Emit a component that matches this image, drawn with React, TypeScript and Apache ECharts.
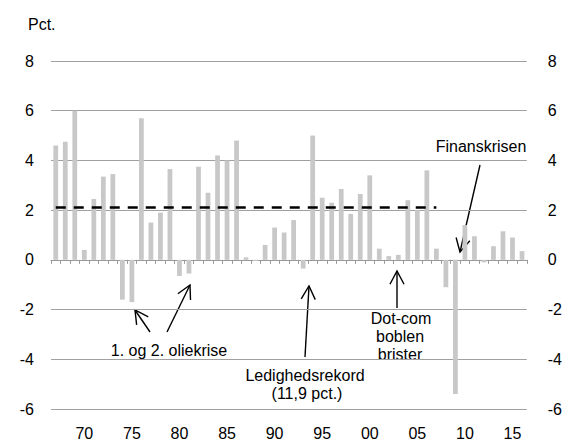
import React, { useEffect, useRef } from "react";
import * as echarts from "echarts";

const years = [
  "1967", "1968", "1969", "1970", "1971", "1972", "1973", "1974", "1975", "1976",
  "1977", "1978", "1979", "1980", "1981", "1982", "1983", "1984", "1985", "1986",
  "1987", "1988", "1989", "1990", "1991", "1992", "1993", "1994", "1995", "1996",
  "1997", "1998", "1999", "2000", "2001", "2002", "2003", "2004", "2005", "2006",
  "2007", "2008", "2009", "2010", "2011", "2012", "2013", "2014", "2015", "2016",
];

const growth = [
  4.6, 4.75, 6.0, 0.4, 2.45, 3.35, 3.45, -1.6, -1.7, 5.7,
  1.5, 1.9, 3.65, -0.65, -0.55, 3.75, 2.7, 4.2, 4.0, 4.8,
  0.1, -0.05, 0.6, 1.3, 1.1, 1.6, -0.35, 5.0, 2.5, 2.3,
  2.85, 1.85, 2.65, 3.4, 0.45, 0.15, 0.2, 2.4, 2.0, 3.6,
  0.45, -1.1, -5.4, 1.4, 0.95, -0.1, 0.55, 1.15, 0.9, 0.35,
];

const avgValue = 2.1;
const avgStart = "1967";
const avgEnd = "2007";

const yTicks = { min: -6, max: 8, interval: 2 };

const FONT = "'Liberation Sans', Arial, sans-serif";

type Arrow = { x1: number; y1: number; x2: number; y2: number };
const arrows: Arrow[] = [
  { x1: 150, y1: 332, x2: 135, y2: 310 },
  { x1: 167, y1: 332, x2: 190, y2: 285 },
  { x1: 305, y1: 357, x2: 309, y2: 286 },
  { x1: 397, y1: 308, x2: 397, y2: 271 },
  { x1: 480, y1: 165, x2: 460, y2: 252 },
];

type Label = { text: string; x: number; y: number; align?: string };
const labels: Label[] = [
  { text: "1. og 2. oliekrise", x: 169, y: 350 },
  { text: "Ledighedsrekord", x: 305, y: 375 },
  { text: "(11,9 pct.)", x: 307, y: 393 },
  { text: "Dot-com", x: 401, y: 318 },
  { text: "boblen", x: 400, y: 336 },
  { text: "brister", x: 400, y: 354 },
  { text: "Finanskrisen", x: 481, y: 146 },
  { text: "Pct.", x: 28, y: 24, align: "left" },
];

function arrowGraphic(a: Arrow) {
  const ang = Math.atan2(a.y2 - a.y1, a.x2 - a.x1);
  const len = 15;
  const half = (28 * Math.PI) / 180;
  const p1 = [a.x2 - len * Math.cos(ang - half), a.y2 - len * Math.sin(ang - half)];
  const p2 = [a.x2 - len * Math.cos(ang + half), a.y2 - len * Math.sin(ang + half)];
  return {
    type: "group",
    silent: true,
    children: [
      {
        type: "line",
        shape: { x1: a.x1, y1: a.y1, x2: a.x2, y2: a.y2 },
        style: { stroke: "#000", lineWidth: 1.4 },
      },
      {
        type: "polyline",
        shape: { points: [p1, [a.x2, a.y2], p2] },
        style: { stroke: "#000", lineWidth: 1.4, fill: null },
      },
    ],
  };
}

export default function App() {
  const ref = useRef<HTMLDivElement>(null);
  useEffect(() => {
    if (!ref.current) return;
    const chart = echarts.init(ref.current, null, { renderer: "svg" });
    const labelStyle = { color: "#000", fontSize: 16, fontFamily: FONT };
    chart.setOption({
      animation: false,
      backgroundColor: "#fff",
      grid: { left: 51, right: 33, top: 61, bottom: 30, containLabel: false },
      xAxis: [
        {
          type: "category",
          data: years,
          position: "bottom",
          boundaryGap: true,
          axisLine: { onZero: true, lineStyle: { color: "#999", width: 1 } },
          axisTick: { show: true, interval: 0, length: 4, lineStyle: { color: "#999" } },
          axisLabel: { show: false },
          splitLine: { show: false },
        },
        {
          type: "category",
          data: years,
          position: "bottom",
          boundaryGap: true,
          axisLine: { show: false, onZero: false },
          axisTick: { show: false },
          axisLabel: {
            ...labelStyle,
            margin: 16,
            interval: (_i: number, v: string) => Number(v) % 5 === 0,
            formatter: (v: string) => v.slice(2),
          },
          splitLine: { show: false },
        },
      ],
      yAxis: [
        {
          type: "value",
          position: "left",
          ...yTicks,
          axisLine: { show: false },
          axisTick: { show: false },
          axisLabel: { ...labelStyle, margin: 17 },
          splitLine: { show: true, lineStyle: { color: "#a0a0a0", width: 1 } },
        },
        {
          type: "value",
          position: "right",
          ...yTicks,
          axisLine: { show: false },
          axisTick: { show: false },
          axisLabel: { ...labelStyle, margin: 21 },
          splitLine: { show: false },
        },
      ],
      series: [
        {
          type: "bar",
          data: growth,
          xAxisIndex: 0,
          yAxisIndex: 0,
          barWidth: "50%",
          itemStyle: { color: "#c8c8c8" },
          silent: true,
          markLine: {
            silent: true,
            symbol: "none",
            label: { show: false },
            lineStyle: { color: "#000", width: 2.6, type: [10, 8] },
            data: [[{ coord: [avgStart, avgValue] }, { coord: [avgEnd, avgValue] }]],
          },
        },
      ],
      graphic: [
        ...arrows.map(arrowGraphic),
        ...labels.map((l) => ({
          type: "text",
          x: l.x,
          y: l.y,
          silent: true,
          style: {
            text: l.text,
            fill: "#000",
            font: `16px ${FONT}`,
            textAlign: l.align || "center",
            textVerticalAlign: "middle",
          },
        })),
      ],
    });
    return () => chart.dispose();
  }, []);
  return (
    <div
      ref={ref}
      style={{ position: "fixed", left: 0, top: 0, width: 565, height: 441, background: "#fff" }}
    />
  );
}
